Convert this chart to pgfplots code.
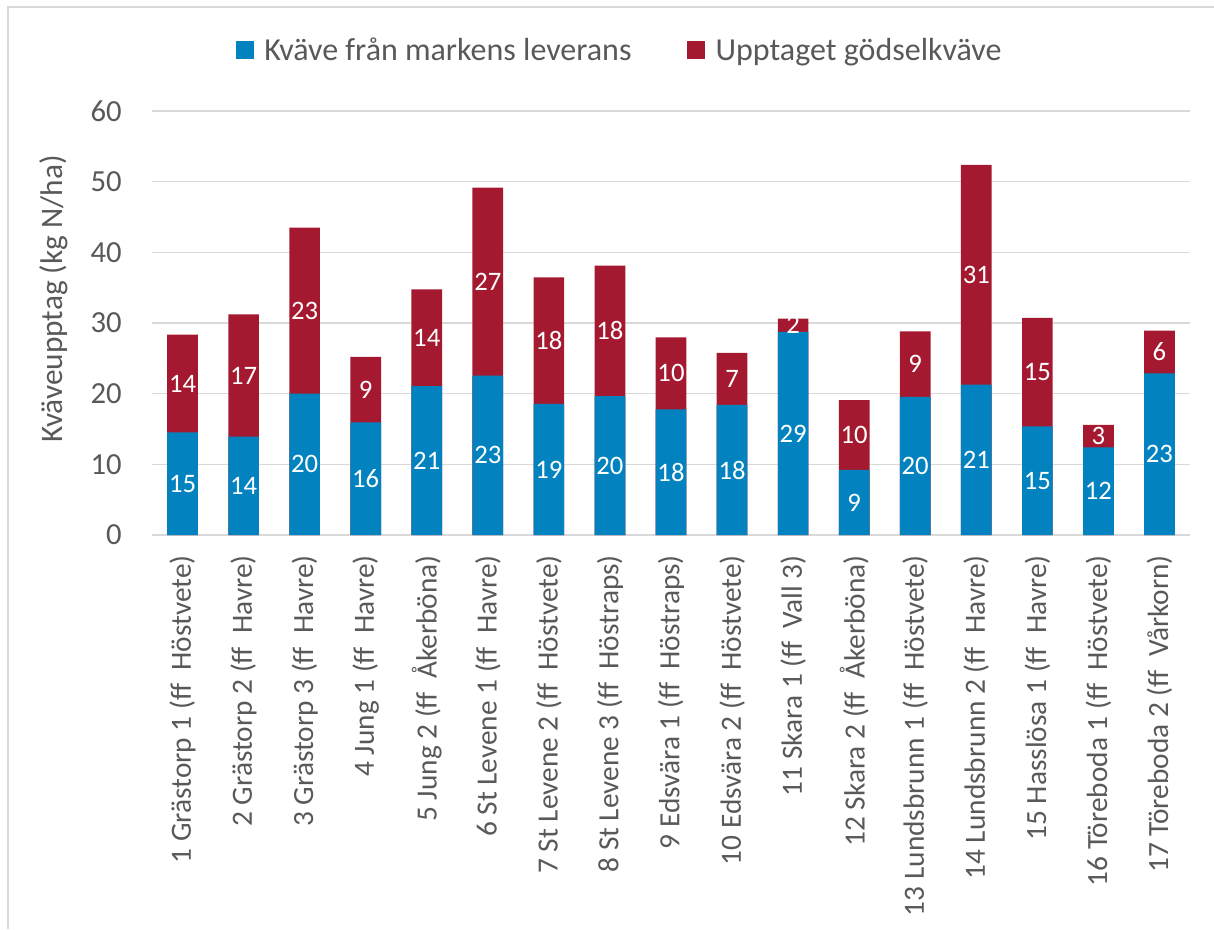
\documentclass[border=0pt]{standalone}
\usepackage{fontspec}
\setmainfont{Carlito}
\usepackage{pgfplots}
\usepackage{pgfplotstable}
\pgfplotsset{compat=1.18}
\definecolor{myblue}{HTML}{0283C0}
\definecolor{myred}{HTML}{A51930}
\definecolor{gridgray}{HTML}{D9D9D9}
\definecolor{txtgray}{HTML}{595959}

\pgfplotstableread{
idx blue red
0 14.53 13.82
1 13.92 17.31
2 20.00 23.49
3 15.94 9.25
4 21.08 13.68
5 22.55 26.60
6 18.54 17.92
7 19.67 18.44
8 17.78 10.19
9 18.40 7.36
10 28.73 1.89
11 9.20 9.90
12 19.53 9.29
13 21.27 31.10
14 15.38 15.33
15 12.41 3.16
16 22.88 6.04
}\data

\begin{document}
\begin{tikzpicture}
\begin{axis}[
  scale only axis,
  width=778.5pt, height=318pt,
  xmin=-0.5, xmax=16.5,
  ymin=0, ymax=60,
  ytick={0,10,...,60},
  xtick={0,...,16},
  xticklabels={
    1 Grästorp 1 (ff\ \ Höstvete),
    2 Grästorp 2 (ff\ \ Havre),
    3 Grästorp 3 (ff\ \ Havre),
    4 Jung 1 (ff\ \ Havre),
    5 Jung 2 (ff\ \ Åkerböna),
    6 St Levene 1 (ff\ \ Havre),
    7 St Levene 2 (ff\ \ Höstvete),
    8 St Levene 3 (ff\ \ Höstraps),
    9 Edsvära 1 (ff\ \ Höstraps),
    10 Edsvära 2 (ff\ \ Höstvete),
    11 Skara 1 (ff\ \ Vall 3),
    12 Skara 2 (ff\ \ Åkerböna),
    13 Lundsbrunn 1 (ff\ \ Höstvete),
    14 Lundsbrunn 2 (ff\ \ Havre),
    15 Hasslösa 1 (ff\ \ Havre),
    16 Töreboda 1 (ff\ \ Höstvete),
    17 Töreboda 2 (ff\ \ Vårkorn)},
  axis line style={draw=none},
  tick style={draw=none},
  ymajorgrids,
  grid style={gridgray, line width=1.2pt},
  major tick length=0pt,
  /pgf/number format/assume math mode=true,
  yticklabel style={font=\fontsize{23}{27}\selectfont, text=txtgray, anchor=east, inner sep=0pt, xshift=-22.5pt},
  xticklabel style={font=\fontsize{22}{26}\selectfont, text=txtgray, rotate=90, anchor=east, inner ysep=0pt, inner xsep=15pt},
  ylabel={Kväveupptag (kg N/ha)},
  every axis y label/.style={at={(axis description cs:-0.0944,0.5566)}, rotate=90, anchor=center, font=\fontsize{23.5}{28}\selectfont, text=txtgray},
  legend columns=2,
  legend style={draw=none, fill=none, at={(0.451,1.144)}, anchor=center,
    font=\fontsize{24}{28}\selectfont, text=txtgray,
    /tikz/every odd column/.append style={column sep=6pt},
    /tikz/every even column/.append style={column sep=40pt}},
  clip=false,
]
\addlegendimage{legend image code/.code={\fill[myblue] (0pt,-6.4pt) rectangle (12.75pt,6.4pt);}}
\addlegendentry{Kväve från markens leverans}
\addlegendimage{legend image code/.code={\fill[myred] (0pt,-6.4pt) rectangle (12.75pt,6.4pt);}}
\addlegendentry{Upptaget gödselkväve}

\addplot[ybar, bar width=23pt, bar shift=0pt, fill=myred, draw=none, forget plot]
  table[x=idx, y expr=\thisrow{blue}+\thisrow{red}]{\data};
\addplot[ybar, bar width=23pt, bar shift=0pt, fill=myblue, draw=none, forget plot]
  table[x=idx, y=blue]{\data};

\addplot[draw=none, forget plot, point meta=explicit,
  nodes near coords={\pgfmathprintnumber[fixed,precision=0]{\pgfplotspointmeta}},
  every node near coord/.append style={anchor=center, text=white, font=\fontsize{20}{24}\selectfont, inner sep=0pt}]
  table[x=idx, y expr=\thisrow{blue}/2, meta=blue]{\data};
\addplot[draw=none, forget plot, point meta=explicit,
  nodes near coords={\pgfmathprintnumber[fixed,precision=0]{\pgfplotspointmeta}},
  every node near coord/.append style={anchor=center, text=white, font=\fontsize{20}{24}\selectfont, inner sep=0pt}]
  table[x=idx, y expr=\thisrow{blue}+\thisrow{red}/2, meta=red]{\data};
\end{axis}
\draw[gridgray, line width=1.5pt] (-108pt,-295.5pt) -- (-108pt,396pt) -- (796.5pt,396pt);
\pgfresetboundingbox
\path (-114pt,-295.5pt) rectangle (796.5pt,401.25pt);
\end{tikzpicture}
\end{document}
